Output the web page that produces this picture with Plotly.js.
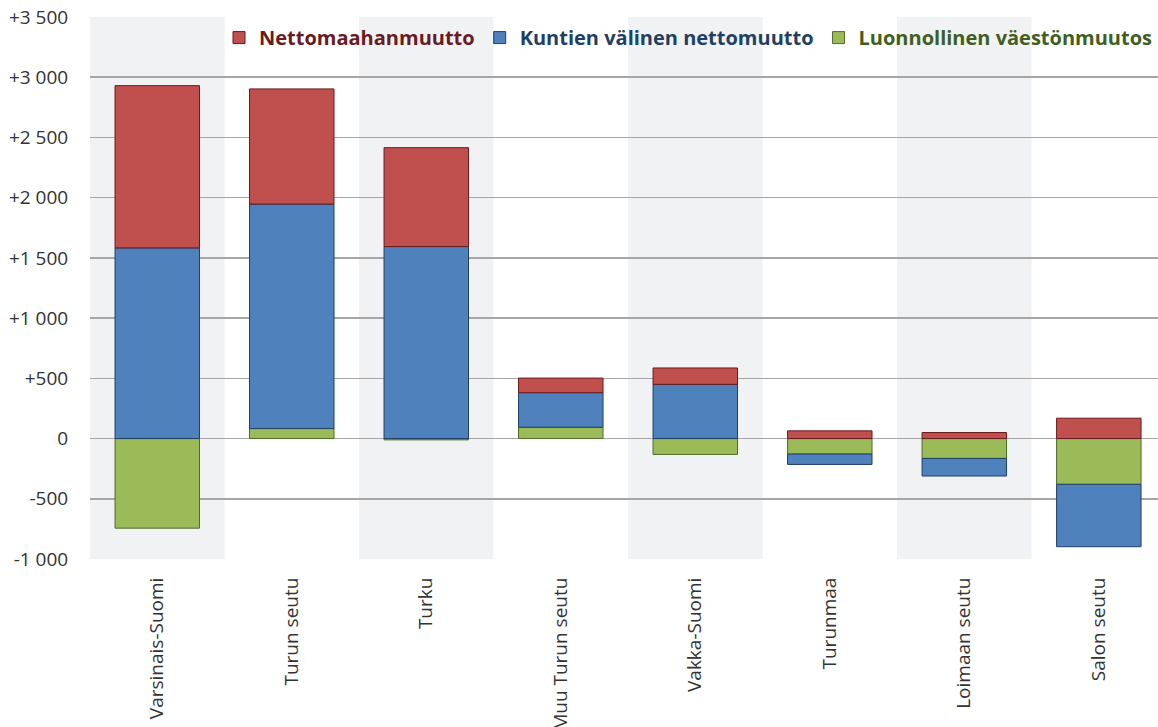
<!DOCTYPE html>
<html>
<head>
<meta charset="utf-8">
<script src="https://cdn.plot.ly/plotly-3.0.1.min.js"></script>
<style>
  html, body { margin: 0; padding: 0; background: #fff; }
  #chart { width: 1158px; height: 727px; }
</style>
</head>
<body>
<div id="chart"></div>
<script>
const categories = ["Varsinais-Suomi", "Turun seutu", "Turku", "Muu Turun seutu", "Vakka-Suomi", "Turunmaa", "Loimaan seutu", "Salon seutu"];
const luonnollinen = [-744, 83, -11, 94, -132, -129, -165, -380];
const kuntien = [1583, 1864, 1594, 287, 450, -86, -146, -518];
const nettomaahan = [1347, 956, 821, 121, 136, 64, 50, 169];

const yTickVals = [3500, 3000, 2500, 2000, 1500, 1000, 500, 0, -500, -1000];
const yTickText = ["+3 500", "+3 000", "+2 500", "+2 000", "+1 500", "+1 000", "+500", "0", "-500", "-1 000"];

const seriesNames = ["Luonnollinen väestönmuutos", "Kuntien välinen nettomuutto", "Nettomaahanmuutto"];
const fills = ["#9bbb59", "#4f81bd", "#c0504d"];
const borders = ["#4f6b2c", "#1f3f66", "#6b1a1f"];
const textColors = ["#3f5f1f", "#1f3f66", "#6b1a1f"];
const seriesValues = [luonnollinen, kuntien, nettomaahan];

const traces = seriesValues.map((vals, i) => ({
  type: "bar",
  x: categories,
  y: vals,
  name: '<span style="color:' + textColors[i] + '"><b>' + seriesNames[i] + '</b></span>',
  marker: { color: fills[i], line: { color: borders[i], width: 1 } },
  hoverinfo: "x+y"
}));

const shapes = categories.map((c, i) => i % 2 === 0 ? ({
  type: "rect", xref: "x", yref: "paper",
  x0: i - 0.5, x1: i + 0.5, y0: 0, y1: 1,
  fillcolor: "#f1f2f4", line: { width: 0 }, layer: "below"
}) : null).filter(Boolean);

const layout = {
  width: 1158, height: 727,
  margin: { l: 90, r: 0, t: 17, b: 168 },
  paper_bgcolor: "#ffffff",
  plot_bgcolor: "rgba(0,0,0,0)",
  barmode: "relative",
  bargap: 0.372,
  showlegend: true,
  legend: {
    orientation: "h", traceorder: "reversed",
    x: 1, xanchor: "right", y: 0.998, yanchor: "top",
    bgcolor: "rgba(0,0,0,0)",
    font: { family: "Open Sans, sans-serif", size: 20 },
    itemwidth: 30
  },
  xaxis: {
    type: "category",
    range: [-0.5, 7.44],
    tickangle: -90,
    ticks: "outside", ticklen: 10, tickcolor: "rgba(0,0,0,0)",
    showgrid: false, zeroline: false, showline: false,
    tickfont: { family: "Open Sans, sans-serif", size: 19, color: "#333333" },
    fixedrange: true
  },
  yaxis: {
    range: [-1000, 3500],
    tickvals: yTickVals, ticktext: yTickText,
    ticks: "outside", ticklen: 17, tickcolor: "rgba(0,0,0,0)",
    showgrid: true, gridcolor: "#a6a6a6", gridwidth: 1.5,
    zeroline: true, zerolinecolor: "#a6a6a6", zerolinewidth: 1.5,
    showline: false,
    tickfont: { family: "Open Sans, sans-serif", size: 19, color: "#333333" },
    fixedrange: true
  },
  shapes: shapes
};

Plotly.newPlot("chart", traces, layout, { displayModeBar: false, staticPlot: true });
</script>
</body>
</html>
